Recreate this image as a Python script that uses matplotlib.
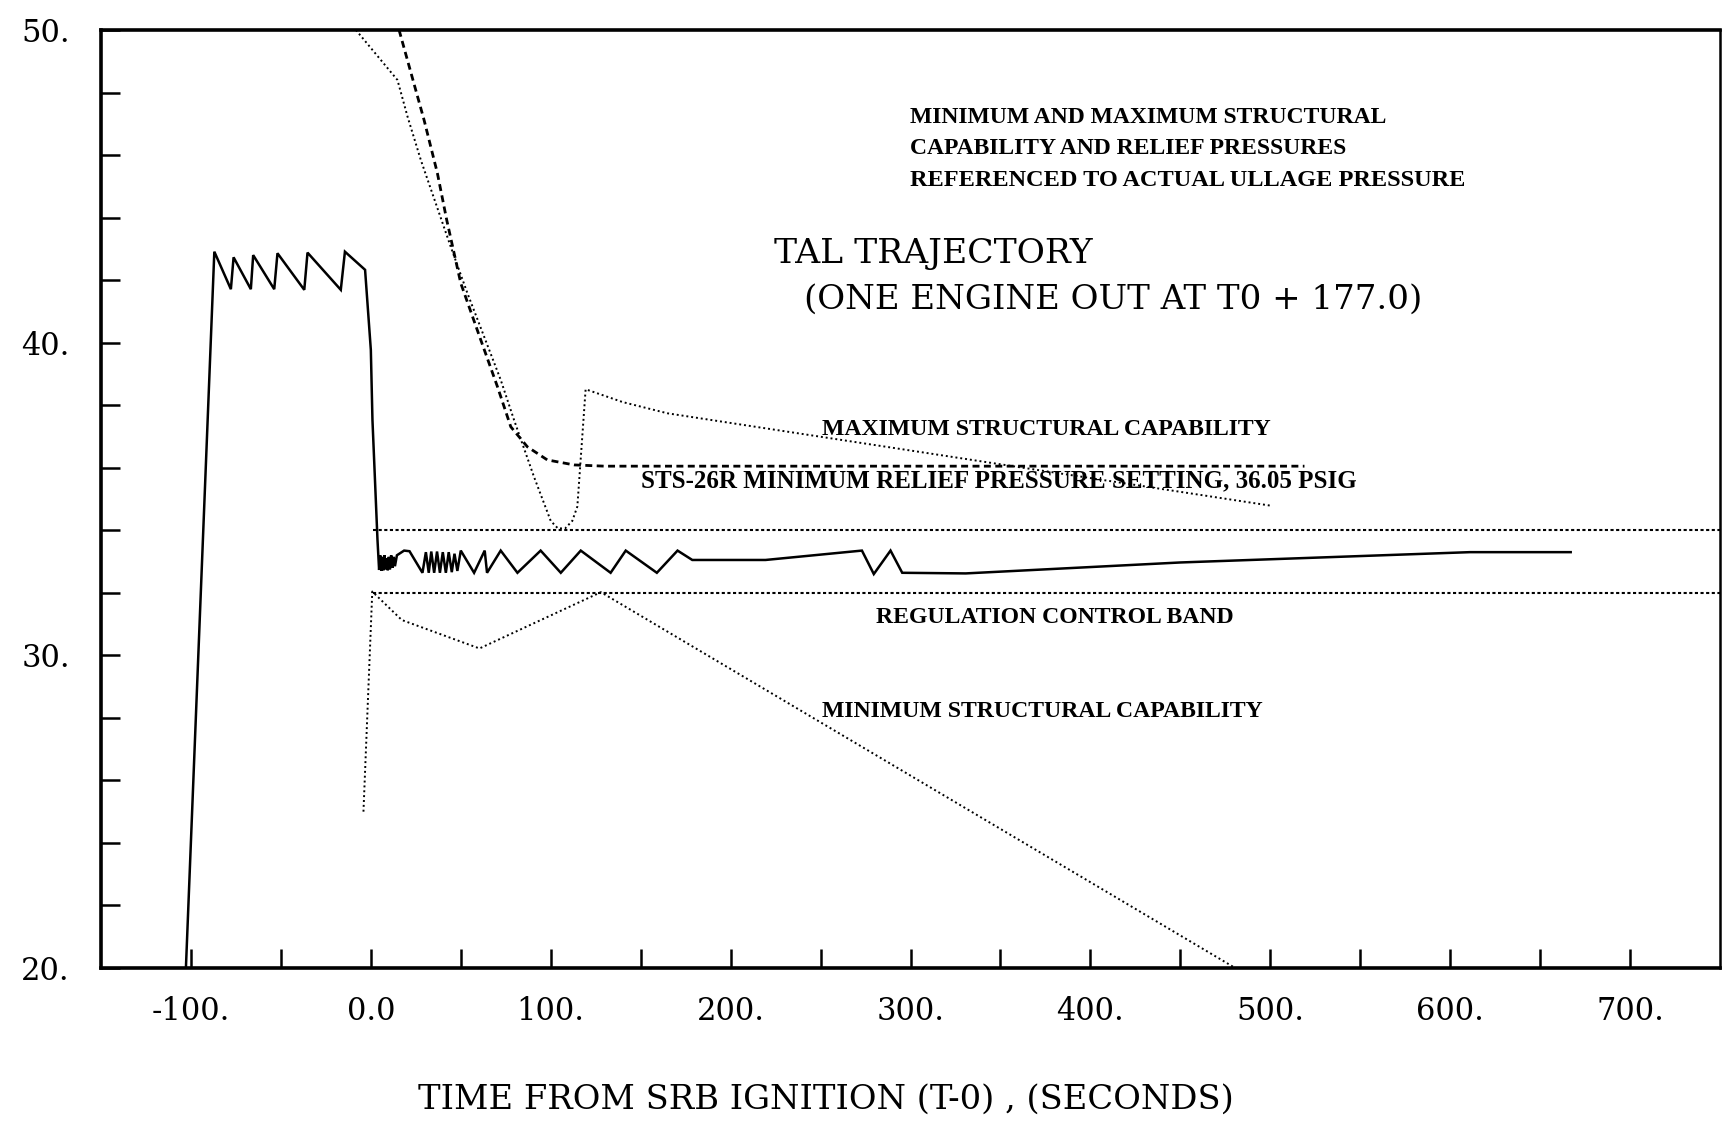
import matplotlib
matplotlib.use("Agg")
import matplotlib.pyplot as plt
from matplotlib.ticker import FixedLocator, FixedFormatter

# ullage pressure (solid), time in s from SRB ignition, pressure in psig
ullage_t = [-102.8, -87.0, -77.8, -76.3, -66.7, -65.4, -53.7, -51.9, -37.0, -35.2,
            -16.7, -14.4, -3.2, 0.0, 0.9, 3.7, 4.6,
            5.2, 5.8, 6.4, 7.0, 7.6, 8.2, 8.8, 9.4, 10.0, 10.6, 11.3, 12.0, 12.7, 13.4,
            14.5, 18.5, 21.5, 28.7,
            30.6, 32.2, 33.6, 35.2, 36.8, 38.4, 40.0, 41.7, 43.3, 45.0, 46.5, 48.1,
            50.0, 57.4, 63.3, 64.6, 72.2, 81.5, 94.4, 105.6, 116.7, 133.3, 141.7,
            159.0, 170.5, 178.7, 219.4, 273.0, 279.6, 288.9, 295.4, 330.7, 450.0,
            611.0, 667.0]
ullage_p = [20.0, 42.91, 41.71, 42.73, 41.71, 42.80, 41.71, 42.86, 41.69, 42.88,
            41.69, 42.91, 42.33, 39.77, 37.53, 33.69, 32.73,
            33.20, 32.70, 33.15, 32.72, 33.20, 32.75, 33.10, 32.72, 33.15, 32.75, 33.20, 32.80, 33.15, 32.85,
            33.20, 33.35, 33.33, 32.64,
            33.30, 32.64, 33.32, 32.64, 33.32, 32.64, 33.30, 32.64, 33.30, 32.66, 33.25, 32.70,
            33.35, 32.64, 33.35, 32.64, 33.35, 32.64, 33.35, 32.64, 33.35, 32.64, 33.35,
            32.64, 33.35, 33.05, 33.05, 33.35, 32.60, 33.35, 32.64, 32.62, 32.97,
            33.30, 33.30]

# maximum structural capability (dotted)
max_t = [-8.3, 14.8, 20.4, 27.8, 44.4, 53.7, 63.0, 72.2, 79.6, 90.7, 100.0, 104.0,
         108.0, 112.0, 114.8, 119.4, 140.0, 165.0, 501.0]
max_p = [50.0, 48.4, 47.23, 45.84, 43.07, 41.58, 40.19, 38.81, 37.53, 35.71, 34.3, 34.06,
         34.06, 34.3, 34.76, 38.51, 38.1, 37.74, 34.78]

# minimum relief pressure setting (dashed)
relief_t = [15.7, 29.6, 37.0, 42.2, 50.0, 61.1, 70.4, 77.8, 87.0, 98.1, 113.0, 130.0, 519.0]
relief_p = [50.0, 47.12, 45.42, 43.92, 41.9, 40.09, 38.59, 37.31, 36.67, 36.25, 36.09, 36.05, 36.05]

# minimum structural capability (dotted)
min_t = [-4.1, 0.8, 17.2, 60.4, 127.9, 480.5]
min_p = [25.0, 32.04, 31.13, 30.22, 32.02, 20.0]

# regulation control band
band_lo, band_hi = 32.0, 34.0
band_start = 1.0

x_major = [-100, 0, 100, 200, 300, 400, 500, 600, 700]
x_labels = ["-100.", "0.0", "100.", "200.", "300.", "400.", "500.", "600.", "700."]
x_minor = [-50, 50, 150, 250, 350, 450, 550, 650]
y_major = [20, 30, 40, 50]
y_labels = ["20.", "30.", "40.", "50."]
y_minor = [22, 24, 26, 28, 32, 34, 36, 38, 42, 44, 46, 48]

W, H = 1723, 1126
fig = plt.figure(figsize=(W / 100, H / 100), dpi=100)
ax = fig.add_axes([101 / W, 1 - 968 / H, (1720 - 101) / W, (968 - 30) / H])

serif = "Liberation Serif"
wide = "DejaVu Serif"

ax.plot(ullage_t, ullage_p, color="black", lw=1.8, solid_joinstyle="miter")
ax.plot(max_t, max_p, color="black", lw=1.4, linestyle=(0, (1, 1.5)))
ax.plot(relief_t, relief_p, color="black", lw=2.0, linestyle=(0, (2.5, 1.6)))
ax.plot(min_t, min_p, color="black", lw=1.4, linestyle=(0, (1, 1.5)))
ax.hlines([band_lo, band_hi], band_start, 750, color="black", lw=1.5,
          linestyle=(0, (1.5, 1.2)))

ax.set_xlim(-150, 750)
ax.set_ylim(20, 50)

ax.xaxis.set_major_locator(FixedLocator(x_major))
ax.xaxis.set_major_formatter(FixedFormatter(x_labels))
ax.xaxis.set_minor_locator(FixedLocator(x_minor))
ax.yaxis.set_major_locator(FixedLocator(y_major))
ax.yaxis.set_major_formatter(FixedFormatter(y_labels))
ax.yaxis.set_minor_locator(FixedLocator(y_minor))

ax.tick_params(axis="both", which="both", direction="in", length=13.5, width=1.8)
ax.tick_params(axis="x", which="major", pad=20)
ax.tick_params(axis="y", which="major", pad=22.5)
for lab in ax.get_xticklabels() + ax.get_yticklabels():
    lab.set_fontfamily(wide)
    lab.set_fontsize(22)

for side in ["top", "bottom", "left"]:
    ax.spines[side].set_linewidth(2.6)
ax.spines["right"].set_linewidth(1.8)

ax.set_xlabel("TIME FROM SRB IGNITION (T-0) , (SECONDS)", fontfamily=wide, fontsize=24.3)
ax.xaxis.set_label_coords(0.448, -0.123)

note_kw = dict(fontfamily=serif, fontweight="bold", fontsize=17, va="center", ha="left")
ax.text(300, 47.21, "MINIMUM AND MAXIMUM STRUCTURAL", **note_kw)
ax.text(300, 46.22, "CAPABILITY AND RELIEF PRESSURES", **note_kw)
ax.text(300, 45.20, "REFERENCED TO ACTUAL ULLAGE PRESSURE", fontfamily=serif,
        fontweight="bold", fontsize=17.5, va="center", ha="left")

ax.text(224, 42.84, "TAL TRAJECTORY", fontfamily=wide, fontsize=24.8, va="center", ha="left")
ax.text(241, 41.37, "(ONE ENGINE OUT AT T0 + 177.0)", fontfamily=wide, fontsize=24.5,
        va="center", ha="left")

lab_kw = dict(fontfamily=serif, fontweight="bold", fontsize=17.1, va="center", ha="left")
ax.text(251, 37.22, "MAXIMUM STRUCTURAL CAPABILITY", **lab_kw)
ax.text(150.4, 35.57, "STS-26R MINIMUM RELIEF PRESSURE SETTING, 36.05 PSIG",
        fontfamily=serif, fontweight="bold", fontsize=18, va="center", ha="left")
ax.text(281, 31.2, "REGULATION CONTROL BAND", **lab_kw)
ax.text(251, 28.2, "MINIMUM STRUCTURAL CAPABILITY", **lab_kw)

fig.savefig("out.png", dpi=100)
